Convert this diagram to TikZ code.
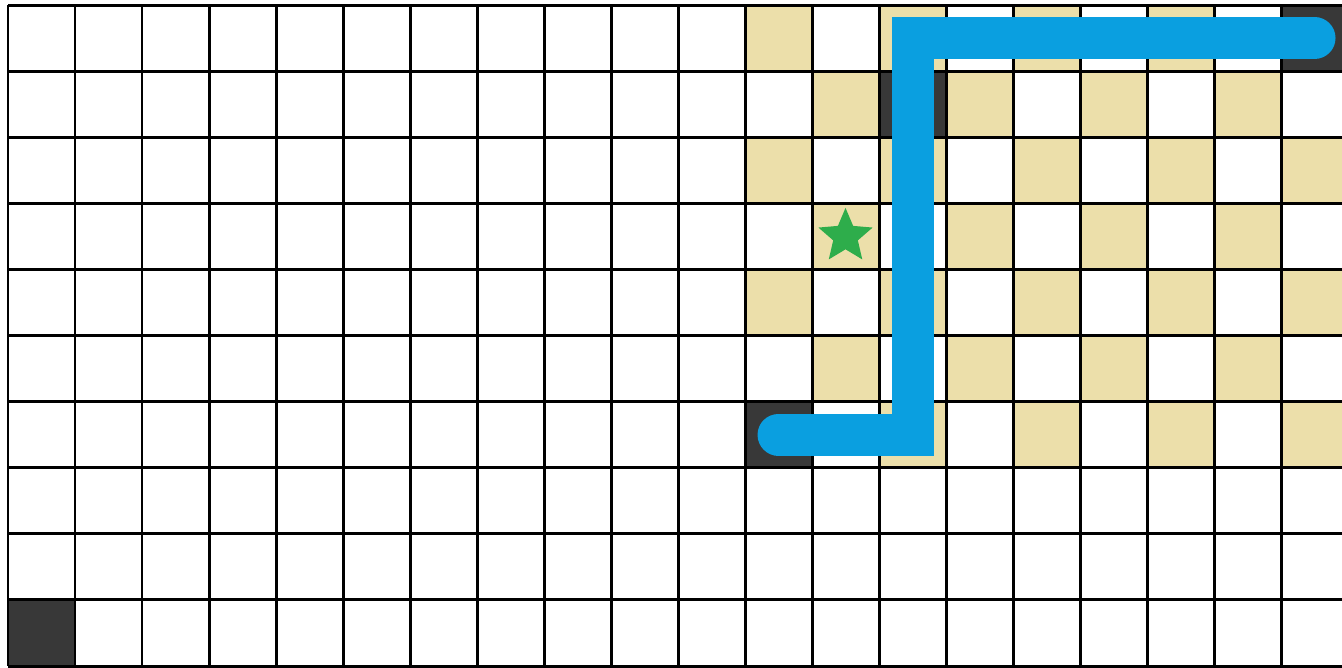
\documentclass[tikz,border=0pt]{standalone}
\usepackage{xcolor}
\definecolor{Sand}{HTML}{ECDFAA}
\definecolor{Wall}{HTML}{383838}
\definecolor{Route}{HTML}{0A9FE0}
\definecolor{Leaf}{HTML}{2EAD4B}
\usepackage{tikz}
\usetikzlibrary{shapes.geometric}

\begin{document}
\begin{tikzpicture}[x=0.67cm,y=-0.661cm,
  wall/.style={fill=Wall,minimum width=0.67cm,minimum height=0.661cm,inner sep=0pt,outer sep=0pt},
  gridline/.style={line width=0.85pt,black},
  route/.style={draw=Route,line width=0.42cm,line cap=round,line join=miter},
  goal/.style={star,star points=5,star point ratio=2.2,fill=Leaf,minimum size=0.57cm,inner sep=0pt}]
\useasboundingbox (-0.1194,-0.0756) rectangle (19.91,10.015);
\clip (-0.1194,-0.0756) rectangle (19.91,10.015);
\fill[white] (-0.1194,-0.0756) rectangle (19.91,10.015);
% sand checkerboard
\foreach \i in {11,...,19}
  \foreach \j in {0,...,6}{
    \pgfmathtruncatemacro\odd{mod(\i+\j,2)}
    \ifnum\odd=1 \fill[Sand] (\i,\j) rectangle ++(1,1); \fi}
% walls
\node[wall] (start) at (11.5,6.5) {};
\node[wall] (mid) at (13.5,1.5) {};
\node[wall] (end) at (19.5,0.5) {};
\node[wall] (corner) at (0.5,9.5) {};
% grid
\foreach \i in {0,...,20} \draw[gridline] (\i,0) -- (\i,10);
\foreach \j in {0,...,10} \draw[gridline] (0,\j) -- (20,\j);
% route and goal
\draw[route] (start.center) -| (mid.center) |- (end.center);
\node[goal] (prize) at (12.5,3.5) {};
\end{tikzpicture}
\end{document}
